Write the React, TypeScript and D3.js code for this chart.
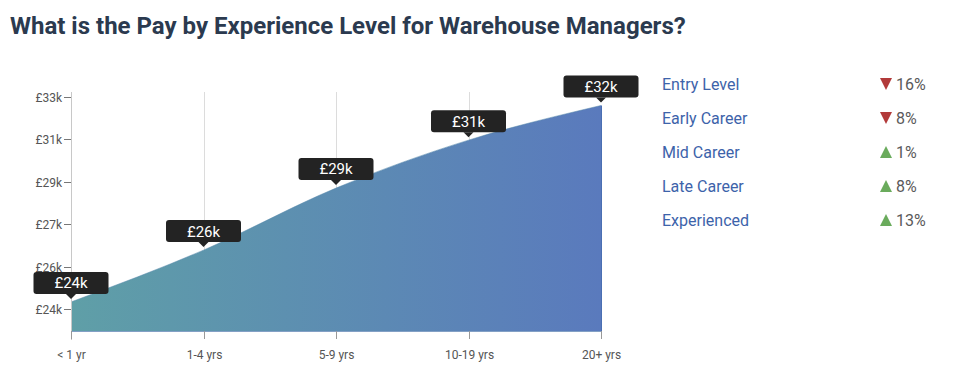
import React from "react";
import * as d3 from "d3";

const categories = ["< 1 yr", "1-4 yrs", "5-9 yrs", "10-19 yrs", "20+ yrs"];
const payValues = [24.19, 26.33, 28.89, 30.87, 32.3];
const payLabels = ["£24k", "£26k", "£29k", "£31k", "£32k"];
const yTickValues = [23.9, 25.65, 27.4, 29.15, 30.9, 32.65];
const yTickLabels = ["£24k", "£26k", "£27k", "£29k", "£31k", "£33k"];
const legendLevels = ["Entry Level", "Early Career", "Mid Career", "Late Career", "Experienced"];
const legendChange = [-16, -8, 1, 8, 13];

const W = 956;
const H = 380;
const FONT = "Roboto, 'Open Sans', sans-serif";

export default function App() {
  const x = d3.scalePoint<string>().domain(categories).range([71, 601]);
  const y = d3.scaleLinear().domain([23.9, 32.65]).range([309, 97]);
  const baseY = 331;

  const area = d3
    .area<number>()
    .x((_, i) => x(categories[i]) as number)
    .y0(baseY)
    .y1((d) => y(d))
    .curve(d3.curveMonotoneX);
  const line = d3
    .line<number>()
    .x((_, i) => x(categories[i]) as number)
    .y((d) => y(d))
    .curve(d3.curveMonotoneX);

  const tipW = 75;
  const tipH = 22;

  return (
    <svg width={W} height={H} style={{ position: "absolute", left: 0, top: 0, background: "#fff" }}>
      <defs>
        <linearGradient id="areaGrad" x1="0" x2="1" y1="0" y2="0">
          <stop offset="0%" stopColor="#5f9fa7" />
          <stop offset="100%" stopColor="#5a7abd" />
        </linearGradient>
      </defs>
      <text x={10} y={34} fontFamily={FONT} fontWeight={700} fontSize={24} fill="#2b3a4f">
        What is the Pay by Experience Level for Warehouse Managers?
      </text>

      {/* vertical gridlines */}
      {categories.slice(1, 4).map((c) => (
        <line key={c} x1={Math.round(x(c) as number) + 0.5} x2={Math.round(x(c) as number) + 0.5} y1={92} y2={baseY} stroke="#dcdcdc" strokeWidth={1} />
      ))}

      {/* area */}
      <path d={area(payValues) || ""} fill="url(#areaGrad)" />
      <path d={line(payValues) || ""} fill="none" stroke="#4f83a8" strokeWidth={1} opacity={0.5} />
      <line x1={601.5} x2={601.5} y1={y(payValues[4])} y2={baseY} stroke="#4a6fb3" strokeWidth={1} />
      <line x1={71} x2={601} y1={baseY + 0.5} y2={baseY + 0.5} stroke="#4f78ad" strokeWidth={1} opacity={0.7} />

      {/* y axis */}
      <line x1={71.5} x2={71.5} y1={92} y2={340} stroke="#c8c8c8" strokeWidth={1} />
      {yTickValues.map((v, i) => (
        <g key={v} transform={`translate(0,${Math.round(y(v)) + 0.5})`}>
          <line x1={64} x2={71} stroke="#777" strokeWidth={1} />
          <text x={62} dy="0.35em" textAnchor="end" fontFamily={FONT} fontSize={12} fill="#555">
            {yTickLabels[i]}
          </text>
        </g>
      ))}

      {/* x axis ticks */}
      {categories.map((c) => (
        <g key={c} transform={`translate(${Math.round(x(c) as number) + 0.5},0)`}>
          <line y1={baseY} y2={339} stroke="#999" strokeWidth={1} />
          <text y={359} textAnchor="middle" fontFamily={FONT} fontSize={12} fill="#555">
            {c}
          </text>
        </g>
      ))}

      {/* tooltips */}
      {payValues.map((v, i) => {
        const cx = x(categories[i]) as number;
        const py = y(v);
        const bottom = py - 8;
        return (
          <g key={i}>
            <rect x={cx - tipW / 2} y={bottom - tipH} width={tipW} height={tipH} rx={3} fill="#232323" />
            <path d={`M${cx - 5},${bottom} L${cx + 5},${bottom} L${cx},${bottom + 5} Z`} fill="#232323" />
            <text x={cx} y={bottom - tipH / 2} dy="0.36em" textAnchor="middle" fontFamily={FONT} fontSize={15} fill="#fff">
              {payLabels[i]}
            </text>
          </g>
        );
      })}

      {/* legend */}
      {legendLevels.map((lvl, i) => {
        const ly = 84 + i * 34;
        const ch = legendChange[i];
        const up = ch > 0;
        return (
          <g key={lvl}>
            <text x={662} y={ly} dy="0.35em" fontFamily={FONT} fontSize={16} fill="#3d63aa">
              {lvl}
            </text>
            {up ? (
              <path d={`M${880},${ly + 6} L${892},${ly + 6} L${886},${ly - 6} Z`} fill="#6aab5c" />
            ) : (
              <path d={`M${880},${ly - 6} L${892},${ly - 6} L${886},${ly + 6} Z`} fill="#b23a3a" />
            )}
            <text x={896} y={ly} dy="0.35em" fontFamily={FONT} fontSize={16} fill="#5a5a5a">
              {Math.abs(ch)}%
            </text>
          </g>
        );
      })}
    </svg>
  );
}
